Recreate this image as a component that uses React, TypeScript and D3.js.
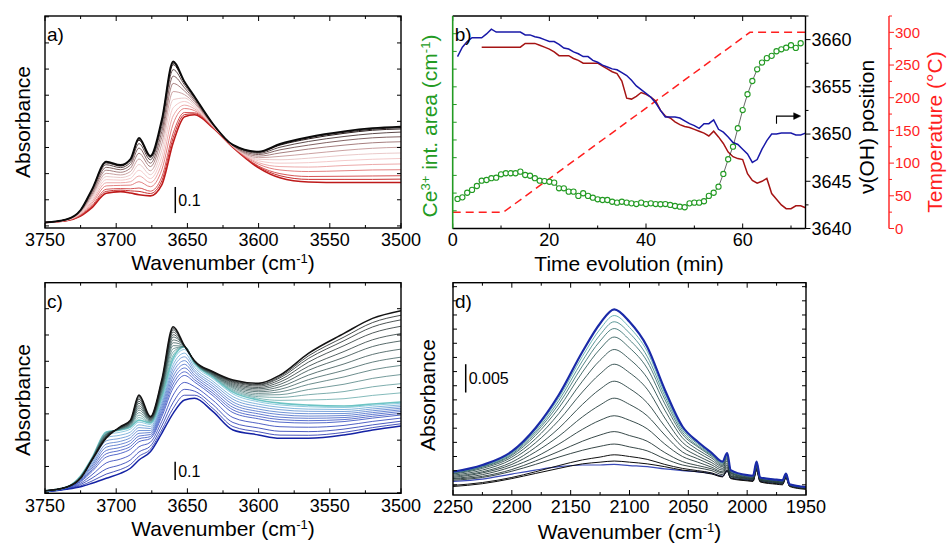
import * as d3 from "d3";

const FONT = "'Liberation Sans', Arial, Helvetica, sans-serif";

// a) OH region while heating, 1e-3 absorbance, first spectrum (black) -> last (red)
const aWave = [3750, 3735, 3725, 3717, 3707, 3697, 3690, 3684, 3676, 3668, 3660, 3652, 3645, 3632, 3618, 3600, 3585, 3565, 3540, 3520, 3500];
const aSpectra = [
  [13, 25, 61, 140, 246, 233, 256, 337, 268, 406, 629, 552, 495, 390, 310, 284, 314, 340, 362, 374, 380],
  [13, 25, 61, 139, 244, 231, 253, 333, 265, 401, 623, 549, 494, 390, 310, 283, 311, 337, 358, 370, 376],
  [13, 25, 60, 137, 241, 229, 251, 328, 262, 396, 617, 547, 492, 389, 310, 282, 309, 333, 354, 366, 371],
  [13, 24, 59, 133, 234, 223, 243, 315, 253, 381, 598, 539, 488, 388, 309, 278, 301, 323, 342, 353, 359],
  [13, 24, 57, 127, 224, 215, 233, 298, 240, 361, 573, 528, 482, 387, 308, 273, 291, 309, 327, 337, 341],
  [13, 24, 55, 121, 213, 205, 221, 278, 227, 339, 545, 516, 476, 386, 307, 267, 279, 294, 309, 318, 322],
  [13, 23, 53, 114, 201, 195, 208, 256, 211, 314, 514, 502, 469, 384, 306, 261, 266, 276, 289, 297, 301],
  [13, 23, 50, 107, 189, 185, 195, 235, 196, 289, 483, 489, 462, 383, 305, 255, 253, 259, 270, 276, 279],
  [13, 22, 48, 100, 177, 175, 182, 213, 181, 264, 452, 476, 455, 381, 304, 249, 240, 242, 250, 255, 258],
  [13, 22, 46, 93, 165, 165, 169, 191, 166, 239, 421, 462, 448, 380, 303, 242, 227, 225, 231, 235, 237],
  [13, 21, 43, 86, 153, 155, 156, 169, 150, 214, 390, 449, 441, 378, 302, 236, 214, 208, 211, 214, 215],
  [13, 21, 41, 78, 140, 143, 142, 145, 133, 187, 355, 434, 433, 377, 301, 229, 200, 189, 190, 191, 192],
  [13, 20, 39, 74, 132, 137, 134, 132, 124, 172, 337, 426, 429, 376, 301, 226, 192, 178, 178, 178, 179],
  [13, 20, 38, 70, 125, 131, 126, 119, 115, 157, 318, 418, 425, 375, 300, 222, 184, 168, 166, 166, 166],
];
const aColors = ["#0a0a0a", "#161010", "#2a1c1c", "#4b3535", "#735050", "#9c7070", "#c49696", "#e8c4c4", "#f2c4c4", "#eaa0a0", "#e07474", "#d04444", "#c82c2c", "#be1a1a"];
const aWidths = [1.8, 1, 1, 0.9, 0.9, 0.9, 0.9, 0.9, 0.9, 0.9, 0.9, 0.9, 1, 1.6];

// c) OH region, second run, 1e-3 absorbance: black -> teal -> blue
const cWave = aWave;
const cSpectra = [
  [14, 33, 82, 182, 302, 364, 400, 537, 419, 619, 910, 805, 725, 664, 619, 601, 646, 765, 874, 956, 998],
  [14, 33, 83, 183, 304, 363, 398, 530, 417, 614, 901, 805, 724, 663, 616, 596, 638, 751, 854, 933, 973],
  [14, 33, 83, 183, 305, 362, 396, 523, 416, 610, 893, 805, 724, 661, 612, 592, 631, 737, 834, 909, 948],
  [14, 33, 84, 184, 308, 361, 394, 514, 413, 603, 881, 804, 723, 659, 608, 586, 620, 717, 807, 876, 913],
  [14, 33, 85, 185, 310, 360, 391, 503, 410, 596, 867, 804, 722, 657, 603, 578, 608, 694, 775, 839, 873],
  [14, 33, 86, 186, 313, 358, 387, 492, 407, 588, 854, 804, 721, 654, 597, 571, 595, 672, 743, 802, 833],
  [14, 33, 87, 187, 316, 356, 384, 479, 404, 580, 838, 803, 720, 652, 591, 563, 582, 646, 707, 759, 788],
  [13, 34, 89, 188, 319, 355, 381, 467, 401, 572, 823, 803, 718, 649, 585, 555, 568, 621, 672, 717, 744],
  [13, 34, 90, 189, 322, 353, 377, 455, 398, 563, 807, 803, 717, 647, 579, 546, 554, 595, 636, 675, 699],
  [13, 34, 91, 190, 325, 351, 373, 441, 395, 554, 790, 802, 716, 644, 573, 537, 539, 567, 596, 628, 649],
  [13, 34, 92, 191, 328, 350, 370, 427, 391, 545, 773, 802, 715, 641, 566, 528, 524, 539, 556, 582, 599],
  [13, 34, 94, 192, 332, 348, 366, 414, 388, 535, 756, 801, 713, 638, 560, 519, 508, 510, 517, 535, 549],
  [13, 34, 95, 193, 335, 346, 362, 400, 384, 526, 739, 801, 712, 635, 553, 510, 493, 482, 477, 488, 499],
  [13, 33, 92, 186, 322, 334, 351, 389, 376, 516, 724, 786, 702, 626, 543, 500, 483, 473, 469, 481, 492],
  [13, 33, 88, 176, 305, 318, 335, 374, 365, 502, 703, 766, 689, 612, 528, 487, 470, 460, 458, 471, 483],
  [12, 32, 84, 167, 287, 301, 319, 359, 354, 488, 682, 746, 675, 599, 514, 474, 457, 448, 447, 461, 474],
  [12, 31, 80, 157, 269, 284, 304, 343, 343, 475, 661, 725, 662, 586, 499, 460, 443, 435, 436, 451, 465],
  [12, 30, 76, 148, 252, 268, 288, 328, 332, 461, 639, 705, 648, 573, 485, 447, 430, 422, 425, 441, 456],
  [11, 29, 71, 138, 234, 251, 272, 313, 321, 447, 618, 685, 635, 559, 470, 434, 416, 410, 414, 431, 447],
  [11, 28, 67, 128, 216, 235, 256, 298, 310, 433, 597, 664, 621, 546, 456, 420, 403, 397, 403, 421, 437],
  [11, 28, 63, 119, 198, 218, 241, 282, 299, 419, 576, 644, 608, 533, 441, 407, 389, 384, 392, 411, 428],
  [10, 26, 55, 101, 166, 187, 211, 254, 279, 393, 537, 606, 583, 508, 414, 382, 364, 361, 371, 393, 411],
  [10, 24, 48, 83, 133, 156, 182, 226, 258, 368, 497, 568, 558, 484, 387, 357, 339, 337, 351, 374, 394],
  [9, 23, 41, 67, 105, 130, 157, 202, 241, 346, 464, 536, 536, 463, 365, 336, 318, 317, 333, 359, 380],
  [9, 22, 36, 55, 82, 109, 137, 182, 227, 328, 437, 510, 519, 446, 346, 319, 301, 301, 319, 346, 368],
];
const cColors = [
  "#141414", "#1a2020", "#1f2828", "#243030", "#293a3a", "#2f4646", "#365252", "#3e6060", "#477070", "#518282", "#5c9898", "#64aaaa",
  "#6cc4c4",
  "#72bcd8", "#64a4d4", "#588cd0", "#4c78cc", "#4268c8", "#3a5ac4", "#324ec0", "#2a44bc", "#243ab6", "#1e32b0", "#1a2aaa", "#1422a4",
];
const cWidths = [1.6, 0.8, 0.8, 0.8, 0.8, 0.8, 0.8, 0.8, 0.8, 0.8, 0.8, 0.8, 1.6, 0.8, 0.8, 0.8, 0.8, 0.8, 0.8, 0.8, 0.8, 0.8, 0.8, 0.8, 1.5];

// d) carbonyl region, 1e-4 absorbance, largest band first
const dWave = [2250, 2225, 2200, 2180, 2160, 2140, 2125, 2113, 2100, 2085, 2070, 2055, 2042, 2030, 2021, 2017, 2014, 2000, 1995, 1992, 1989, 1975, 1970, 1967, 1964, 1950];
const dSpectra = [
  [41, 53, 77, 118, 177, 253, 303, 328, 306, 262, 186, 121, 94, 74, 59, 74, 44, 35, 34, 59, 31, 27, 26, 38, 19, 14],
  [40, 52, 75, 115, 172, 245, 293, 317, 296, 254, 180, 118, 92, 73, 58, 73, 43, 35, 34, 58, 31, 27, 26, 38, 19, 14],
  [40, 51, 74, 112, 167, 237, 283, 306, 286, 245, 175, 115, 90, 71, 57, 72, 43, 34, 33, 58, 31, 27, 26, 38, 19, 14],
  [39, 50, 72, 109, 161, 228, 272, 294, 274, 236, 169, 111, 87, 70, 56, 70, 42, 34, 33, 57, 30, 26, 25, 37, 19, 14],
  [38, 49, 70, 105, 154, 217, 258, 279, 260, 224, 161, 107, 85, 68, 54, 68, 42, 34, 33, 57, 30, 26, 25, 37, 19, 14],
  [37, 47, 67, 99, 144, 201, 238, 257, 240, 207, 150, 101, 80, 65, 52, 66, 40, 33, 32, 55, 29, 25, 24, 36, 18, 13],
  [35, 44, 63, 92, 132, 182, 214, 231, 216, 187, 136, 93, 75, 61, 50, 63, 39, 32, 31, 54, 29, 25, 24, 36, 18, 13],
  [33, 41, 58, 84, 118, 160, 187, 201, 188, 163, 121, 85, 69, 57, 47, 60, 38, 31, 30, 53, 28, 24, 23, 35, 18, 13],
  [31, 39, 54, 76, 104, 138, 159, 171, 160, 140, 106, 76, 64, 53, 44, 56, 36, 30, 29, 51, 28, 24, 23, 35, 18, 13],
  [29, 36, 50, 67, 90, 116, 132, 140, 132, 117, 90, 68, 58, 49, 41, 53, 34, 30, 29, 49, 27, 23, 22, 34, 18, 13],
  [28, 33, 45, 60, 77, 95, 106, 112, 105, 95, 75, 59, 52, 46, 39, 50, 33, 29, 28, 48, 26, 22, 21, 33, 17, 12],
  [26, 31, 42, 54, 67, 79, 86, 90, 85, 78, 64, 53, 48, 43, 36, 47, 32, 28, 27, 47, 26, 22, 21, 33, 17, 12],
  [17, 22, 31, 41, 52, 62, 67, 71, 68, 63, 54, 47, 43, 39, 33, 44, 30, 26, 25, 45, 24, 20, 19, 31, 16, 11],
  [15, 20, 29, 38, 47, 55, 58, 60, 58, 55, 50, 44, 41, 37, 32, 42, 29, 25, 24, 43, 23, 19, 18, 30, 15, 10],
  [24, 28, 37, 44, 50, 53, 53, 54, 52, 50, 46, 43, 41, 38, 33, 43, 30, 27, 26, 45, 25, 21, 20, 32, 17, 12],
];
const dColors = ["#1a2aa8", "#6ab4b4", "#4a8c8c", "#3e7676", "#36605f", "#2f5050", "#2b4747", "#284242", "#263e3e", "#243a3a", "#223636", "#203232", "#111111", "#0a0a0a", "#3a4ab8"];
const dWidths = [2.2, 1, 0.9, 0.9, 0.9, 0.9, 0.9, 0.9, 0.9, 0.9, 0.9, 0.9, 1, 1, 1.2];

// b) time evolution; Ce3+ area every minute from 1 min, OH positions every minute
const ceArea = [1.67, 1.76, 2.02, 2.18, 2.4, 2.7, 2.74, 2.84, 2.87, 3.06, 3.12, 3.12, 3.12, 3.21, 3.02, 2.98, 2.84, 2.7, 2.68, 2.64, 2.59, 2.27, 2.27, 2.08, 2.08, 1.84, 1.99, 1.84, 1.74, 1.65, 1.61, 1.61, 1.51, 1.46, 1.51, 1.46, 1.42, 1.38, 1.46, 1.38, 1.42, 1.38, 1.37, 1.38, 1.33, 1.27, 1.23, 1.2, 1.42, 1.46, 1.46, 1.54, 1.84, 2.02, 2.36, 3.08, 3.91, 4.62, 5.66, 6.69, 7.58, 8.33, 8.99, 9.37, 9.62, 9.75, 10.01, 10.12, 10.21, 10.35, 10.2, 10.46];
const ceStart = 1;
const ohBlue = [3658.2, 3659.2, 3659.8, 3660.2, 3660.2, 3660.2, 3660.6, 3661.1, 3660.8, 3660.8, 3660.8, 3660.8, 3660.8, 3660.8, 3660.5, 3660.5, 3660.3, 3660.2, 3660.0, 3659.8, 3659.8, 3659.5, 3659.1, 3659.0, 3658.7, 3658.5, 3658.2, 3658.2, 3657.8, 3657.6, 3657.3, 3657.1, 3656.9, 3656.8, 3656.5, 3656.2, 3655.7, 3655.1, 3654.7, 3654.3, 3653.9, 3653.3, 3652.5, 3651.8, 3651.8, 3651.8, 3651.7, 3651.4, 3651.1, 3650.9, 3650.6, 3651.1, 3651.1, 3651.5, 3650.5, 3650.2, 3649.7, 3649.1, 3648.9, 3648.4, 3647.9, 3647.0, 3647.3, 3648.4, 3649.3, 3650.0, 3650.0, 3650.1, 3650.1, 3650.1, 3649.9, 3649.9, 3650.1];
const blueStart = 1;
const ohRed = [3659.2, 3659.2, 3659.2, 3659.2, 3659.2, 3659.2, 3659.2, 3659.2, 3659.2, 3659.6, 3659.6, 3659.6, 3659.4, 3659.2, 3659.0, 3658.7, 3658.3, 3658.3, 3658.3, 3658.0, 3657.8, 3657.5, 3657.5, 3657.5, 3657.5, 3657.2, 3656.9, 3656.6, 3656.4, 3655.6, 3653.8, 3653.7, 3654.0, 3654.4, 3654.2, 3653.9, 3653.5, 3652.5, 3651.9, 3651.7, 3651.3, 3651.0, 3650.8, 3650.7, 3650.5, 3650.3, 3650.1, 3649.8, 3650.3, 3649.7, 3649.0, 3648.1, 3647.6, 3647.4, 3647.3, 3645.8, 3645.1, 3644.8, 3645.0, 3645.3, 3643.7, 3643.1, 3642.5, 3642.1, 3642.1, 3642.4, 3642.4, 3642.2];
const redStart = 6;
const tempTime = [0, 10.5, 61.5, 73];
const tempVal = [25, 25, 300, 300];

type Spec = {
  id: string;
  left: number; right: number; top: number; bottom: number;
  xDomain: [number, number]; yDomain: [number, number];
  waves: number[]; spectra: number[][]; colors: string[]; widths: number[];
  xMajor: number[]; xMinor: number[]; yTicks: number[];
  tag: string;
  bar: { at: number; from: number; to: number; text: string };
  yTitleX: number; yTitleY: number; labelY: number; titleY: number;
};

function SpectrumPanel(p: Spec) {
  const x = d3.scaleLinear().domain(p.xDomain).range([p.left, p.right]);
  const y = d3.scaleLinear().domain(p.yDomain).range([p.bottom, p.top]);
  const line = d3
    .line<number>()
    .x((_, i) => x(p.waves[i]))
    .y((d) => y(d))
    .curve(d3.curveMonotoneX);
  const order = p.spectra.map((_, i) => i).reverse();
  const midX = (p.left + p.right) / 2;
  const by0 = y(p.bar.from);
  const by1 = y(p.bar.to);
  return (
    <g>
      <clipPath id={p.id}>
        <rect x={p.left} y={p.top} width={p.right - p.left} height={p.bottom - p.top} />
      </clipPath>
      <g clipPath={`url(#${p.id})`} fill="none">
        {order.map((i) => (
          <path key={i} d={line(p.spectra[i]) ?? ""} stroke={p.colors[i]} strokeWidth={p.widths[i]} strokeLinejoin="round" />
        ))}
      </g>
      <g stroke="#000" strokeWidth={1}>
        {p.xMajor.map((v) => (
          <g key={`M${v}`}>
            <line x1={x(v)} x2={x(v)} y1={p.bottom} y2={p.bottom - 5} />
            <line x1={x(v)} x2={x(v)} y1={p.top} y2={p.top + 5} />
          </g>
        ))}
        {p.xMinor.map((v) => (
          <g key={`m${v}`}>
            <line x1={x(v)} x2={x(v)} y1={p.bottom} y2={p.bottom - 3} />
            <line x1={x(v)} x2={x(v)} y1={p.top} y2={p.top + 3} />
          </g>
        ))}
        {p.yTicks.map((v) => (
          <g key={`y${v}`}>
            <line x1={p.left} x2={p.left + 4} y1={y(v)} y2={y(v)} />
            <line x1={p.right} x2={p.right - 4} y1={y(v)} y2={y(v)} />
          </g>
        ))}
      </g>
      <rect x={p.left} y={p.top} width={p.right - p.left} height={p.bottom - p.top} fill="none" stroke="#000" strokeWidth={1.4} />
      {p.xMajor.map((v) => (
        <text key={`l${v}`} x={x(v)} y={p.labelY} fontSize={18} textAnchor="middle">{v}</text>
      ))}
      <text x={midX} y={p.titleY} fontSize={21} textAnchor="middle">
        <tspan>Wavenumber (cm</tspan>
        <tspan dy={-7} fontSize={13}>-1</tspan>
        <tspan dy={7}>)</tspan>
      </text>
      <text transform={`translate(${p.yTitleX},${p.yTitleY}) rotate(-90)`} fontSize={21} textAnchor="middle">Absorbance</text>
      <text x={p.left + 2} y={p.top + 25} fontSize={19}>{p.tag}</text>
      <line x1={x(p.bar.at)} x2={x(p.bar.at)} y1={by0} y2={by1} stroke="#000" strokeWidth={1.5} />
      <text x={x(p.bar.at) + 3} y={(by0 + by1) / 2 + 6} fontSize={16}>{p.bar.text}</text>
    </g>
  );
}

function TimePanel() {
  const left = 452.7, right = 805.5, top = 16, bottom = 228.5, redX = 889;
  const green = "#239b23";
  const red = "#ff1f1f";
  const x = d3.scaleLinear().domain([0, 73]).range([left, right]);
  const yCe = d3.scaleLinear().domain([0, 12]).range([bottom, top]);
  const yOH = d3.scaleLinear().domain([3640, 3662.5]).range([bottom, top]);
  const yT = d3.scaleLinear().domain([0, 325]).range([bottom, top]);

  const ceLine = d3.line<number>().x((_, i) => x(i + ceStart)).y((v) => yCe(v));
  const blueLine = d3.line<number>().x((_, i) => x(i + blueStart)).y((v) => yOH(v));
  const redLine = d3.line<number>().x((_, i) => x(i + redStart)).y((v) => yOH(v));
  const tLine = d3.line<number>().x((_, i) => x(tempTime[i])).y((v) => yT(v));

  const ohMajor = [3640, 3645, 3650, 3655, 3660];
  const ohMinor = [3642.5, 3647.5, 3652.5, 3657.5, 3662.5];
  const tMajor = [0, 50, 100, 150, 200, 250, 300];
  const tMinor = [25, 75, 125, 175, 225, 275, 325];
  const xMajor = [0, 20, 40, 60];
  const xMinor = [10, 30, 50, 70];
  const ceTicks = d3.range(1, 12);

  // arrow pointing at the right-hand axis
  const arrow = { t0: 67, t1: 72, level: 3651.9, drop: 3651.1 };
  const ax0 = x(arrow.t0), ax1 = x(arrow.t1), ay = yOH(arrow.level);

  return (
    <g>
      <clipPath id="clipb">
        <rect x={left} y={top} width={right - left} height={bottom - top} />
      </clipPath>
      <g clipPath="url(#clipb)" fill="none">
        <path d={tLine(tempVal) ?? ""} stroke={red} strokeWidth={1.5} strokeDasharray="8 5" />
        <path d={redLine(ohRed) ?? ""} stroke="#a51414" strokeWidth={1.5} />
        <path d={blueLine(ohBlue) ?? ""} stroke="#1818a8" strokeWidth={1.5} />
        <path d={ceLine(ceArea) ?? ""} stroke="#000" strokeWidth={0.6} />
        {ceArea.map((v, i) => (
          <circle key={i} cx={x(i + ceStart)} cy={yCe(v)} r={2.6} fill="#fff" stroke={green} strokeWidth={1.1} />
        ))}
      </g>
      <g stroke="#000">
        <path d={`M${ax0},${yOH(arrow.drop)}V${ay}H${ax1 - 6}`} fill="none" strokeWidth={1.1} />
        <path d={`M${ax1 - 7},${ay - 3.3}L${ax1},${ay}L${ax1 - 7},${ay + 3.3}Z`} fill="#000" strokeWidth={0.5} />
      </g>
      <g stroke="#000" strokeWidth={1}>
        {xMajor.map((v) => (
          <g key={`M${v}`}>
            <line x1={x(v)} x2={x(v)} y1={bottom} y2={bottom - 5} />
            <line x1={x(v)} x2={x(v)} y1={top} y2={top + 5} />
          </g>
        ))}
        {xMinor.map((v) => (
          <g key={`m${v}`}>
            <line x1={x(v)} x2={x(v)} y1={bottom} y2={bottom - 3} />
            <line x1={x(v)} x2={x(v)} y1={top} y2={top + 3} />
          </g>
        ))}
        {ohMajor.map((v) => (
          <line key={`o${v}`} x1={right} x2={right + 5} y1={yOH(v)} y2={yOH(v)} />
        ))}
        {ohMinor.map((v) => (
          <line key={`om${v}`} x1={right} x2={right + 3} y1={yOH(v)} y2={yOH(v)} />
        ))}
      </g>
      <line x1={left} x2={right} y1={top} y2={top} stroke="#000" strokeWidth={1.4} />
      <line x1={left} x2={right} y1={bottom} y2={bottom} stroke="#000" strokeWidth={1.4} />
      <line x1={right} x2={right} y1={top} y2={bottom} stroke="#000" strokeWidth={1.4} />
      <g stroke={green} strokeWidth={1}>
        {ceTicks.map((v) => (
          <line key={`c${v}`} x1={left} x2={left + 4} y1={yCe(v)} y2={yCe(v)} />
        ))}
      </g>
      <line x1={left} x2={left} y1={top} y2={bottom} stroke={green} strokeWidth={1.6} />
      <line x1={redX} x2={redX} y1={top} y2={bottom} stroke={red} strokeWidth={1.4} />
      <g stroke={red} strokeWidth={1}>
        {tMajor.map((v) => (
          <line key={`t${v}`} x1={redX} x2={redX + 5} y1={yT(v)} y2={yT(v)} />
        ))}
        {tMinor.map((v) => (
          <line key={`tm${v}`} x1={redX} x2={redX + 3} y1={yT(v)} y2={yT(v)} />
        ))}
      </g>
      {tMajor.map((v) => (
        <text key={`tl${v}`} x={redX + 6} y={yT(v)} dy="0.35em" fontSize={15} fill={red}>{v}</text>
      ))}
      {ohMajor.map((v) => (
        <text key={`ol${v}`} x={right + 6} y={yOH(v)} dy="0.35em" fontSize={18}>{v}</text>
      ))}
      {xMajor.map((v) => (
        <text key={`xl${v}`} x={x(v)} y={246} fontSize={18} textAnchor="middle">{v}</text>
      ))}
      <text x={(left + right) / 2} y={271} fontSize={21} textAnchor="middle">Time evolution (min)</text>
      <text x={left + 2} y={top + 25} fontSize={19}>b)</text>
      <text transform={`translate(437,126) rotate(-90)`} fontSize={21} textAnchor="middle" fill={green}>
        <tspan>Ce</tspan>
        <tspan dy={-7} fontSize={13}>3+</tspan>
        <tspan dy={7}> int. area (cm</tspan>
        <tspan dy={-7} fontSize={13}>-1</tspan>
        <tspan dy={7}>)</tspan>
      </text>
      <text transform={`translate(874,127) rotate(-90)`} fontSize={21} textAnchor="middle">ν(OH) position</text>
      <text transform={`translate(942,132) rotate(-90)`} fontSize={21} textAnchor="middle" fill={red}>Temperature (°C)</text>
    </g>
  );
}

export default function App() {
  const ohMajor = [3750, 3700, 3650, 3600, 3550, 3500];
  const ohMinor = [3725, 3675, 3625, 3575, 3525];
  return (
    <svg
      width={947}
      height={552}
      viewBox="0 0 947 552"
      style={{ position: "absolute", left: 0, top: 0, background: "#fff" }}
      fontFamily={FONT}
    >
      <rect width={947} height={552} fill="#fff" />
      <SpectrumPanel
        id="clipa"
        left={45} right={401} top={16} bottom={228}
        xDomain={[3750, 3500]} yDomain={[-8, 803]}
        waves={aWave} spectra={aSpectra} colors={aColors} widths={aWidths}
        xMajor={ohMajor} xMinor={ohMinor} yTicks={d3.range(0, 801, 100)}
        tag="a)"
        bar={{ at: 3658.5, from: 49, to: 149, text: "0.1" }}
        yTitleX={30} yTitleY={122} labelY={246} titleY={270}
      />
      <TimePanel />
      <SpectrumPanel
        id="clipc"
        left={45} right={401} top={282.7} bottom={493.3}
        xDomain={[3750, 3500]} yDomain={[0, 1151]}
        waves={cWave} spectra={cSpectra} colors={cColors} widths={cWidths}
        xMajor={ohMajor} xMinor={ohMinor} yTicks={d3.range(3, 1151, 143.7)}
        tag="c)"
        bar={{ at: 3658.6, from: 73, to: 173, text: "0.1" }}
        yTitleX={30} yTitleY={400} labelY={512} titleY={536}
      />
      <SpectrumPanel
        id="clipd"
        left={453} right={806} top={282.7} bottom={495}
        xDomain={[2250, 1950]} yDomain={[0, 375]}
        waves={dWave} spectra={dSpectra} colors={dColors} widths={dWidths}
        xMajor={[2250, 2200, 2150, 2100, 2050, 2000, 1950]}
        xMinor={[2225, 2175, 2125, 2075, 2025, 1975]}
        yTicks={d3.range(18, 375, 25)}
        tag="d)"
        bar={{ at: 2239.2, from: 181, to: 231, text: "0.005" }}
        yTitleX={435} yTitleY={395} labelY={513} titleY={539}
      />
    </svg>
  );
}
